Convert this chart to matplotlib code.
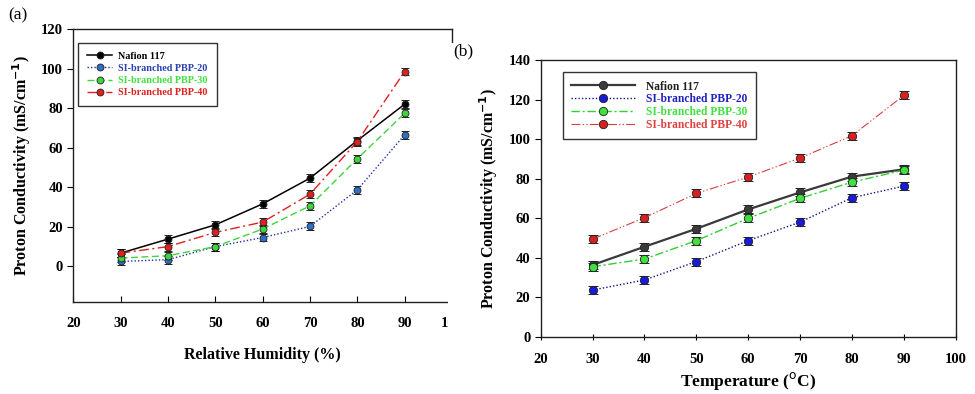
import matplotlib
matplotlib.use("Agg")
import matplotlib.pyplot as plt
from matplotlib.patches import Rectangle
from matplotlib.lines import Line2D

plt.rcParams['font.family'] = ['Liberation Serif', 'DejaVu Serif']

# ---------------- data ----------------
rh = [30, 40, 50, 60, 70, 80, 90]
temp = [30, 40, 50, 60, 70, 80, 90]
series_names = ["Nafion 117", "SI-branched PBP-20", "SI-branched PBP-30", "SI-branched PBP-40"]

a_nafion = [6.7, 13.8, 21.0, 31.6, 44.6, 63.6, 82.0]
a_pbp20 = [2.5, 3.4, 10.0, 14.6, 20.2, 38.7, 66.5]
a_pbp30 = [4.2, 5.4, 10.0, 18.9, 30.6, 54.4, 77.4]
a_pbp40 = [6.7, 10.0, 17.2, 22.4, 36.5, 63.1, 98.5]
a_err = [2.0, 2.0, 2.0, 2.0, 2.0, 2.0, 2.0]

b_nafion = [36.3, 45.5, 54.6, 64.4, 73.0, 81.0, 84.7]
b_pbp20 = [23.6, 28.7, 38.0, 48.6, 58.0, 70.3, 76.2]
b_pbp30 = [35.4, 39.3, 48.6, 59.9, 70.0, 78.2, 84.3]
b_pbp40 = [49.4, 60.2, 72.5, 80.8, 90.4, 101.7, 122.1]
b_err = [2.0, 2.0, 2.0, 2.0, 2.0, 2.0, 2.0]

a_xticks = [20, 30, 40, 50, 60, 70, 80, 90, 100]
a_yticks = [0, 20, 40, 60, 80, 100, 120]
b_xticks = [20, 30, 40, 50, 60, 70, 80, 90, 100]
b_yticks = [0, 20, 40, 60, 80, 100, 120, 140]

# ---------------- figure ----------------
fig = plt.figure(figsize=(9.75, 3.94), dpi=100)
W, H = 975, 394

def ax_rect(l, r, t, b):
    return [l / W, 1 - b / H, (r - l) / W, (b - t) / H]

axA = fig.add_axes(ax_rect(73.3, 452, 29, 302))
axB = fig.add_axes(ax_rect(540.7, 955.7, 60, 336.7))
axA.set_zorder(0)
axB.set_zorder(2)

# white panel covering right part of (a), as in the reference montage
fig.patches.append(Rectangle((448 / W, 0), 1 - 448 / W, (H - 43) / H,
                             transform=fig.transFigure, facecolor='white',
                             edgecolor='none', zorder=1))

tick_font = dict(fontsize=10.5, fontweight='bold')

def draw(ax, xs, ys_list, err, styles, ms, cap):
    handles = []
    for ys, st, name in zip(ys_list, styles, series_names):
        ax.errorbar(xs, ys, yerr=err, color=st['color'], ls=st['ls'], lw=st['lw'],
                    marker='o', ms=ms, mfc=st['mfc'], mec='#202020', mew=0.6,
                    ecolor='black', elinewidth=0.9, capsize=cap, capthick=0.9)
        handles.append(Line2D([], [], color=st['color'], ls=st['ls'], lw=st['lw'],
                              marker='o', ms=ms, mfc=st['mfc'], mec='#202020', mew=0.6,
                              label=name))
    return handles

# ---- panel (a) ----
styA = [
    dict(color='black', ls='-', lw=1.1, mfc='black'),
    dict(color='#1f2f9f', ls=(0, (1, 1.5)), lw=1.0, mfc='#2f6fc8'),
    dict(color='#3fd43f', ls=(0, (5, 2.5)), lw=1.0, mfc='#3fd43f'),
    dict(color='#e02020', ls=(0, (7, 2.5, 1.5, 2.5)), lw=1.0, mfc='#e02020'),
]
txtA = ['black', '#2a3fb0', '#40e040', '#e02020']
hA = draw(axA, rh, [a_nafion, a_pbp20, a_pbp30, a_pbp40], a_err, styA, 5, 3)
axA.set_xlim(20, 100)
axA.set_ylim(-18, 120)
axA.set_xticks(a_xticks)
axA.set_yticks(a_yticks)
axA.set_xticklabels([str(v) for v in a_xticks], **tick_font)
axA.set_yticklabels([str(v) for v in a_yticks], **tick_font)
axA.tick_params(axis='x', direction='in', length=4, pad=11)
axA.tick_params(axis='y', direction='out', length=4)
axA.set_xlabel("Relative Humidity (%)", fontsize=11.5, fontweight='bold', labelpad=12)
axA.set_ylabel("Proton Conductivity (mS/cm$^{\\mathbf{-1}}$)", fontsize=11.5,
               fontweight='bold', labelpad=6)
legA = axA.legend(handles=hA, loc='upper left', bbox_to_anchor=(0.012, 0.95),
                  borderaxespad=0, prop=dict(size=7.3, weight='bold'),
                  handlelength=2.5, frameon=True, fancybox=False, edgecolor='black',
                  borderpad=0.9, labelspacing=0.3, handletextpad=0.6)
legA.get_frame().set_linewidth(1.0)
for t, c in zip(legA.get_texts(), txtA):
    t.set_color(c)

# ---- panel (b) ----
styB = [
    dict(color='#3a3a3a', ls='-', lw=1.6, mfc='#3a3a3a'),
    dict(color='#101080', ls=(0, (1, 1.5)), lw=1.0, mfc='#1a1ad8'),
    dict(color='#30d030', ls=(0, (6, 2, 1.5, 2)), lw=1.0, mfc='#40e040'),
    dict(color='#d84040', ls=(0, (8, 2, 1.2, 2, 1.2, 2)), lw=0.8, mfc='#d82020'),
]
txtB = ['#202020', '#2020c0', '#40e040', '#e04040']
hB = draw(axB, temp, [b_nafion, b_pbp20, b_pbp30, b_pbp40], b_err, styB, 6, 3.5)
axB.set_xlim(20, 100)
axB.set_ylim(0, 140)
axB.set_xticks(b_xticks)
axB.set_yticks(b_yticks)
axB.set_xticklabels([str(v) for v in b_xticks], **tick_font)
axB.set_yticklabels([str(v) for v in b_yticks], **tick_font)
axB.tick_params(axis='x', direction='inout', length=5, pad=9)
axB.tick_params(axis='y', direction='out', length=4)
axB.set_xlabel("Temperature ($^{\\mathrm{o}}$C)", fontsize=12.5, fontweight='bold', labelpad=3)
axB.set_ylabel("Proton Conductivity (mS/cm$^{\\mathbf{-1}}$)", fontsize=11.5,
               fontweight='bold', labelpad=6)
legB = axB.legend(handles=hB, loc='upper left', bbox_to_anchor=(0.054, 0.955),
                  borderaxespad=0, prop=dict(size=8.3, weight='bold'),
                  handlelength=5.5, frameon=True, fancybox=False, edgecolor='black',
                  borderpad=0.7, labelspacing=0.08, handletextpad=1.0)
legB.get_frame().set_linewidth(1.0)
for t, c in zip(legB.get_texts(), txtB):
    t.set_color(c)

for ax in (axA, axB):
    for s in ax.spines.values():
        s.set_linewidth(1.0)
        s.set_color('#202020')

fig.text(8 / W, 1 - 15 / H, "(a)", fontsize=12.5, va='center', ha='left', zorder=5)
fig.text(453 / W, 1 - 51 / H, "(b)", fontsize=12.5, va='center', ha='left', zorder=5)

fig.savefig("out.png", dpi=100, facecolor='white')
